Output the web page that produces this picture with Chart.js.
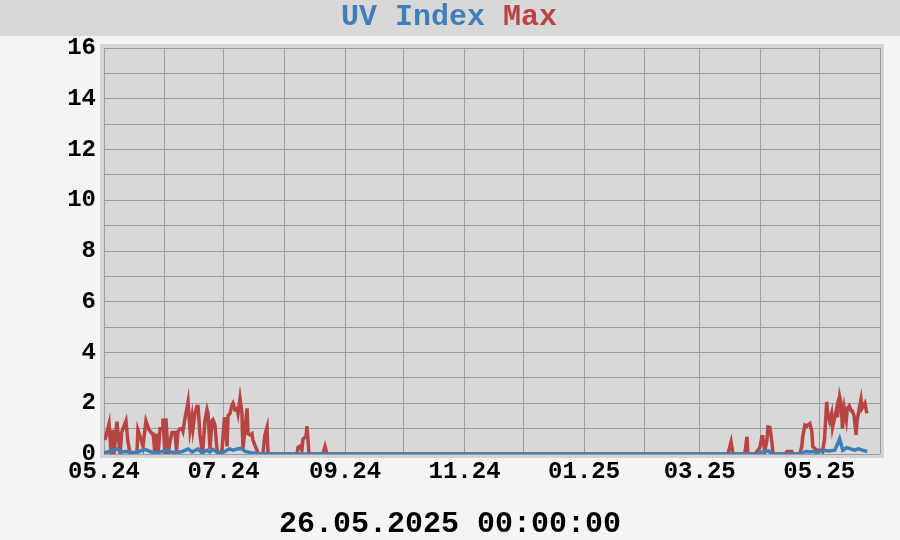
<!DOCTYPE html>
<html>
<head>
<meta charset="utf-8">
<title>UV Index Max</title>
<script src="https://cdn.jsdelivr.net/npm/chart.js@4/dist/chart.umd.min.js"></script>
<style>
  html, body { margin: 0; padding: 0; background: #f4f4f4; }
  #wrap { width: 900px; height: 540px; }
</style>
</head>
<body>
<div id="wrap"><canvas id="uv"></canvas></div>
<script>
// days counted from 01.05.2024
const monthStarts = [0, 31, 61, 92, 123, 153, 184, 214, 245, 276, 304, 335, 365, 396];
const monthLabels = ["05.24", "", "07.24", "", "09.24", "", "11.24", "", "01.25", "", "03.25", "", "05.25", ""];

const uvDays = [0, 3, 6.6, 9, 12, 15, 18, 21, 24, 27, 30, 32, 34, 37, 40, 43, 45, 48, 50, 52.6,
  54, 55.6, 58, 61, 64, 66, 68, 70, 72, 75, 78, 80, 333, 336, 339, 341, 355, 358, 360, 362,
  364, 367, 370, 373, 375.4, 377, 379, 381, 383, 385, 387, 389.5];
const uvValues = [0.05, 0.1, 0.2, 0.08, 0.1, 0.05, 0.1, 0.18, 0.08, 0.05, 0.1, 0.18, 0.08, 0.05, 0.1, 0.2, 0.08, 0.2, 0.05, 0.15,
  0.08, 0.18, 0.05, 0.08, 0.2, 0.15, 0.2, 0.22, 0.1, 0.05, 0.03, 0, 0, 0.08, 0.12, 0, 0, 0.1, 0.08, 0.1,
  0.05, 0.15, 0.12, 0.15, 0.6, 0.15, 0.25, 0.2, 0.15, 0.2, 0.15, 0.1];

const maxDays = [
  0.5, 2.6, 3.6, 4.4, 5.1, 6.6, 8.2, 9.0, 11.2, 12.2,
  13.3, 16.8, 17.3, 18.4, 19.9, 21.4, 23.0, 24.5, 25.0, 26.0,
  27.0, 27.6, 28.6, 29.6, 30.1, 31.1, 31.6, 32.7, 33.7, 34.7,
  36.2, 37.0, 37.8, 38.8, 39.8, 40.3, 41.3, 42.3, 42.9, 43.9,
  44.9, 45.4, 46.4, 47.4, 48.0, 49.0, 50.0, 50.5, 51.5, 52.6,
  53.1, 54.1, 55.1, 55.6, 56.6, 57.7, 58.2, 59.2, 60.2, 61.5,
  62.8, 63.3, 64.3, 65.3, 65.8, 66.8, 67.9, 68.4, 69.4, 70.4,
  70.9, 71.9, 73.0, 73.5, 74.5, 75.5, 76.0, 77.0, 78.1, 78.6,
  81.1, 82.1, 83.2, 83.7, 98.5, 99.0, 100.0, 101.0, 101.5, 103.1,
  103.6, 104.6, 111.7, 112.8, 113.8, 318.4, 320.0, 321.0, 327.0, 328.1,
  328.6, 332.1, 333.2, 334.7, 335.7, 336.2, 337.2, 338.3, 338.8, 339.8,
  340.8, 341.4, 347.5, 348.5, 351.0, 351.6, 355.0, 356.1, 356.6, 357.7,
  358.7, 359.2, 360.2, 361.2, 361.7, 363.7, 366.2, 366.7, 367.7, 368.8,
  369.3, 370.3, 371.3, 371.8, 372.8, 373.9, 374.3, 375.4, 376.3, 376.8,
  377.8, 378.8, 379.3, 380.3, 381.3, 381.8, 382.8, 383.8, 384.3, 385.3,
  386.3, 386.8, 388.3, 389.3
];
const maxValues = [
  0.55, 1.2, 0, 0.95, 0, 1.27, 0, 0.85, 1.3, 0.5,
  0, 0, 0.95, 0.7, 0.3, 1.3, 0.95, 0.8, 0.85, 0,
  0.8, 0, 1.0, 1.0, 1.4, 0, 1.4, 0, 0.5, 0.85,
  0.85, 0.1, 0.9, 1.0, 1.0, 0.9, 1.4, 1.8, 2.06, 0.95,
  1.45, 1.0, 1.6, 1.87, 1.87, 0.75, 0.15, 0.2, 1.3, 1.75,
  1.6, 0.2, 1.3, 1.35, 1.15, 0.15, 0, 0, 0.15, 1.45,
  0.3, 1.5, 1.6, 1.93, 2.0, 1.75, 1.8, 1.6, 2.19, 1.6,
  0.2, 0.9, 1.8, 0.8, 0.75, 0.8, 0.55, 0.35, 0.15, 0,
  0, 0.75, 1.05, 0, 0, 0.25, 0.3, 0.15, 0.58, 0.7,
  1.1, 0, 0, 0.3, 0, 0, 0.48, 0, 0, 0.68,
  0, 0, 0.1, 0.25, 0.68, 0.68, 0.1, 0.55, 1.07, 1.05,
  0.5, 0, 0, 0.1, 0.1, 0, 0, 0.3, 0.7, 1.14,
  1.1, 1.14, 1.2, 0.9, 0.3, 0.15, 0.15, 0.1, 0.6, 2.06,
  1.6, 1.3, 1.6, 1.05, 1.4, 1.8, 1.45, 2.26, 1.95, 1.0,
  1.8, 1.35, 1.8, 1.9, 1.7, 1.7, 1.5, 0.75, 1.3, 1.75,
  2.15, 1.8, 2.0, 1.6
];

const dateLabel = "26.05.2025 00:00:00";
const uvColor = "#3f7fb9";
const maxColor = "#b84444";
const font = "'Liberation Mono', 'DejaVu Sans Mono', monospace";

const toPoints = (xs, ys) => xs.map((x, i) => ({ x: x, y: ys[i] }));

// gray title band, plot frame and the page texts
const frame = {
  id: "frame",
  beforeDraw(chart) {
    const { ctx, chartArea: a } = chart;
    ctx.save();
    ctx.fillStyle = "#f4f4f4";
    ctx.fillRect(0, 0, chart.width, chart.height);
    ctx.fillStyle = "#d8d8d8";
    ctx.fillRect(0, 0, chart.width, 36);
    ctx.fillStyle = "#d4d4d4";
    ctx.fillRect(a.left - 4, a.top - 4, a.right - a.left + 8, a.bottom - a.top + 8);
    ctx.fillStyle = "#d8d8d8";
    ctx.fillRect(a.left, a.top, a.right - a.left, a.bottom - a.top);
    ctx.restore();
  },
  afterDraw(chart) {
    const ctx = chart.ctx;
    const names = chart.data.datasets.map((ds) => ds.label);
    ctx.save();
    ctx.font = "bold 30px " + font;
    ctx.textBaseline = "alphabetic";
    ctx.textAlign = "left";
    const full = names.join(" ");
    let x = 449 - ctx.measureText(full).width / 2;
    chart.data.datasets.forEach((ds) => {
      ctx.fillStyle = ds.borderColor;
      ctx.fillText(ds.label, x, 25);
      x += ctx.measureText(ds.label + " ").width;
    });
    ctx.fillStyle = "#000";
    ctx.textAlign = "center";
    ctx.fillText(dateLabel, 450, 532);
    ctx.restore();
  },
};

const config = {
  type: "line",
  data: {
    datasets: [
      {
        label: "UV Index",
        data: toPoints(uvDays, uvValues),
        borderColor: uvColor,
        backgroundColor: uvColor,
        borderWidth: 3.5,
      },
      {
        label: "Max",
        data: toPoints(maxDays, maxValues),
        borderColor: maxColor,
        backgroundColor: maxColor,
        borderWidth: 3.5,
      },
    ],
  },
  options: {
    responsive: true,
    maintainAspectRatio: false,
    animation: false,
    layout: {
      padding: { left: 0, right: 20, top: 48, bottom: 0 },
    },
    elements: {
      point: { radius: 0 },
      line: { tension: 0 },
    },
    plugins: {
      tooltip: { enabled: false },
      legend: { display: false },
    },
    scales: {
      x: {
        type: "linear",
        min: 0,
        max: 396,
        afterBuildTicks(scale) {
          scale.ticks = monthStarts.map((v) => ({ value: v }));
        },
        afterFit(scale) {
          scale.height = 86;
        },
        grid: { color: "#9c9c9c", lineWidth: 1, drawTicks: false },
        border: { display: false },
        ticks: {
          autoSkip: false,
          maxRotation: 0,
          padding: 4,
          color: "#000",
          font: { family: font, size: 24, weight: "bold" },
          callback: (value) => monthLabels[monthStarts.indexOf(value)],
        },
      },
      y: {
        min: 0,
        max: 16,
        afterFit(scale) {
          scale.width = 104;
        },
        grid: { color: "#9c9c9c", lineWidth: 1, drawTicks: false },
        border: { display: false },
        ticks: {
          stepSize: 1,
          autoSkip: false,
          padding: 8,
          color: "#000",
          font: { family: font, size: 24, weight: "bold" },
          callback: (value) => (value % 2 === 0 ? value : ""),
        },
      },
    },
  },
  plugins: [frame],
};

const ctx = document.getElementById("uv").getContext("2d");
const uvChart = new Chart(ctx, config);
</script>
</body>
</html>
